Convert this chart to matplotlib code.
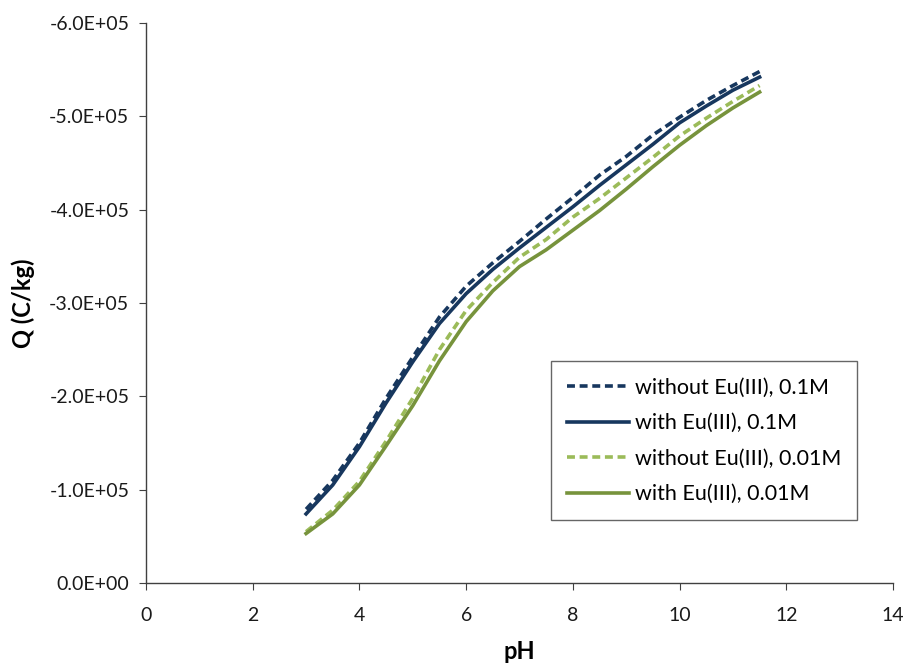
import numpy as np
import matplotlib
matplotlib.use("Agg")
import matplotlib.pyplot as plt
from matplotlib.ticker import FuncFormatter

# pH grid and surface charge curves (Q, x1e5 C/kg)
ph = [3, 3.5, 4, 4.5, 5, 5.5, 6, 6.5, 7, 7.5, 8, 8.5, 9, 9.5, 10, 10.5, 11, 11.5]
q_without_01 = [-0.79, -1.10, -1.50, -1.98, -2.42, -2.85, -3.18, -3.43, -3.66,
                -3.90, -4.13, -4.37, -4.57, -4.80, -4.99, -5.17, -5.33, -5.48]
q_with_01 = [-0.74, -1.05, -1.46, -1.93, -2.37, -2.78, -3.10, -3.36, -3.59,
             -3.81, -4.03, -4.26, -4.48, -4.70, -4.93, -5.11, -5.28, -5.42]
q_without_001 = [-0.55, -0.78, -1.09, -1.52, -1.98, -2.50, -2.92, -3.22, -3.49,
                 -3.68, -3.92, -4.12, -4.34, -4.56, -4.79, -4.98, -5.16, -5.33]
q_with_001 = [-0.53, -0.74, -1.05, -1.47, -1.90, -2.38, -2.80, -3.13, -3.39,
              -3.57, -3.78, -3.99, -4.22, -4.46, -4.69, -4.90, -5.09, -5.26]

labels = ["without Eu(III), 0.1M", "with Eu(III), 0.1M",
          "without Eu(III), 0.01M", "with Eu(III), 0.01M"]

plt.rcParams['font.family'] = ['Lato', 'DejaVu Sans']

fig = plt.figure(figsize=(9.08, 6.70), dpi=100)
ax = fig.add_axes([0.1608, 0.1299, 0.8227, 0.8358])

scale = 1e5
dash = (0, (2.2, 1.3))
ax.plot(ph, np.array(q_without_01) * scale, color="#17375E", lw=2.6,
        ls=dash, label=labels[0])
ax.plot(ph, np.array(q_with_01) * scale, color="#17375E", lw=2.6,
        label=labels[1])
ax.plot(ph, np.array(q_without_001) * scale, color="#9BBB59", lw=2.6,
        ls=dash, label=labels[2])
ax.plot(ph, np.array(q_with_001) * scale, color="#77933C", lw=2.6,
        label=labels[3])

ax.set_xlim(0, 14)
ax.set_ylim(0, -6e5)
ax.set_xticks(range(0, 15, 2))
ax.set_yticks(np.arange(0, -6.01e5, -1e5))
ax.yaxis.set_major_formatter(FuncFormatter(lambda v, p: f"{v + 0.0:.1E}"))

for s in ["top", "right"]:
    ax.spines[s].set_visible(False)
for s in ["left", "bottom"]:
    ax.spines[s].set_color("#404040")
    ax.spines[s].set_linewidth(1.0)
ax.tick_params(axis="both", direction="out", length=5, color="#404040",
               labelsize=14, labelcolor="#1a1a1a")
ax.tick_params(axis="x", pad=12)
ax.tick_params(axis="y", pad=7)

ax.set_xlabel("pH", fontsize=17, fontweight="bold", labelpad=12)
ax.set_ylabel("Q (C/kg)", fontsize=17, fontweight="bold", labelpad=10)

leg = ax.legend(loc="lower right", bbox_to_anchor=(0.952, 0.112), fontsize=15.5,
                frameon=True, fancybox=False, handlelength=2.9,
                handletextpad=0.25, labelspacing=0.72, borderpad=0.75,
                borderaxespad=0)
leg.get_frame().set_edgecolor("#404040")
leg.get_frame().set_linewidth(1.0)

fig.savefig("out.png", dpi=100)
